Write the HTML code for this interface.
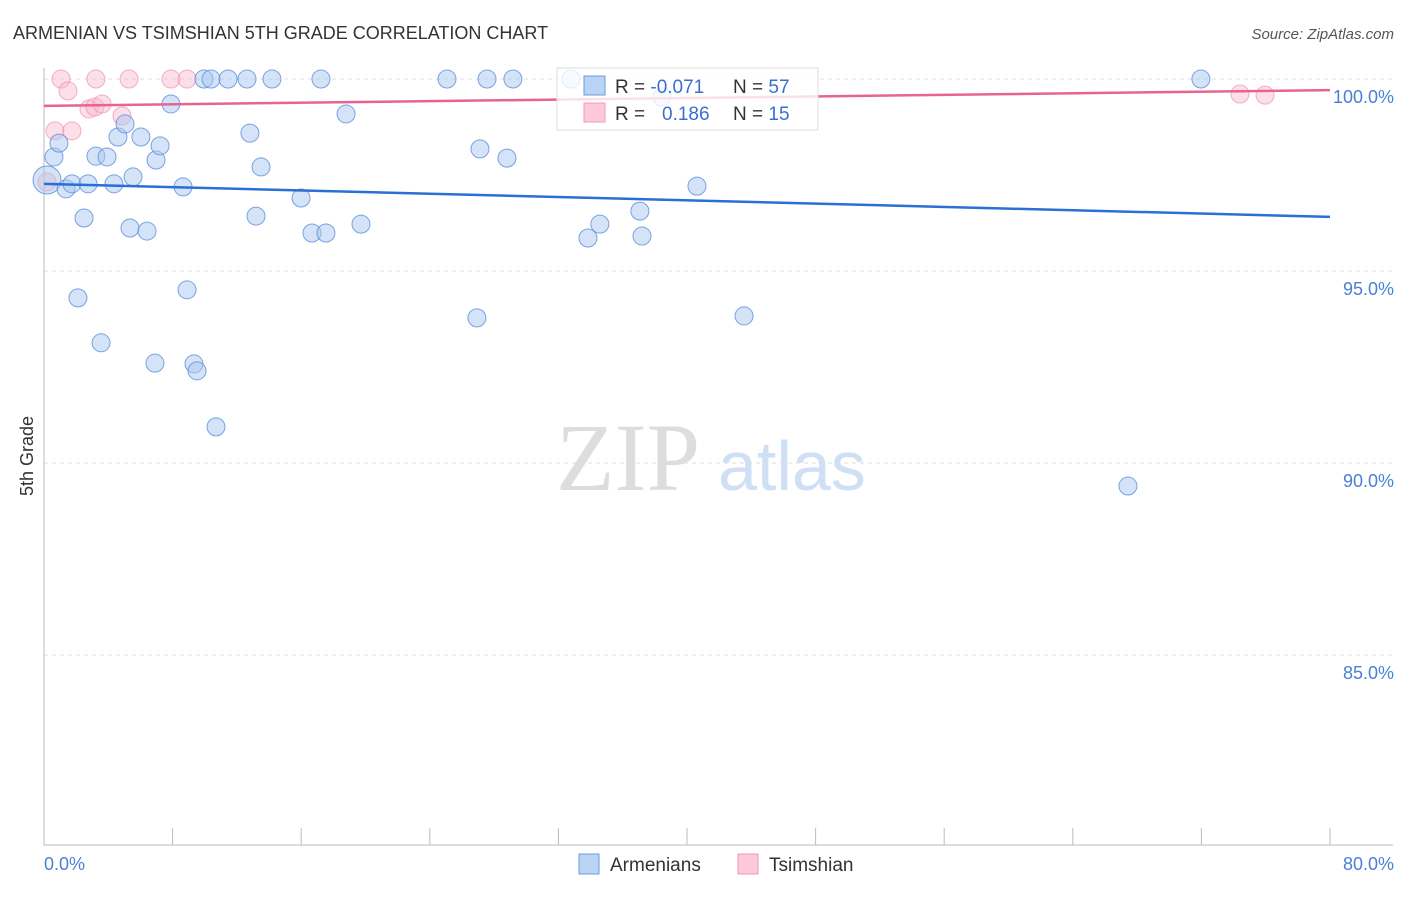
<!DOCTYPE html>
<html><head><meta charset="utf-8"><style>
body{margin:0;background:#fff;font-family:"Liberation Sans",sans-serif}
</style></head><body>
<svg id="c" width="1406" height="892" xmlns="http://www.w3.org/2000/svg">
<text x="13" y="39" font-size="18" fill="#333">ARMENIAN VS TSIMSHIAN 5TH GRADE CORRELATION CHART</text>
<text x="1394" y="39" font-size="15" fill="#555" font-style="italic" text-anchor="end">Source: ZipAtlas.com</text>
<text transform="translate(33,456) rotate(-90)" font-size="18" fill="#333" text-anchor="middle">5th Grade</text>
<text x="556" y="490" font-size="96" fill="#ddd" font-family="Liberation Serif,serif">ZIP</text>
<text x="718" y="490" font-size="70" fill="#cfe0f5">atlas</text>
<g id="grid"></g><g id="pts"></g><g id="lines"></g>
<g>
<rect x="557" y="68" width="261" height="62" fill="#fff" fill-opacity="0.8" stroke="#ddd"/>
<rect x="584" y="76" width="21" height="19" fill="#b9d3f5" stroke="#6a9ee0"/>
<rect x="584" y="103" width="21" height="19" fill="#fcc9d8" stroke="#f09ab5"/>
<text x="615" y="93" font-size="19" fill="#333">R = <tspan fill="#3a6fd0">-0.071</tspan></text>
<text x="733" y="93" font-size="19" fill="#333">N = <tspan fill="#3a6fd0">57</tspan></text>
<text x="615" y="120" font-size="19" fill="#333">R = <tspan fill="#3a6fd0" x="662">0.186</tspan></text>
<text x="733" y="120" font-size="19" fill="#333">N = <tspan fill="#3a6fd0">15</tspan></text>
</g>
<g>
<rect x="579" y="854" width="20" height="20" fill="#b9d3f5" stroke="#6a9ee0"/>
<text x="610" y="871" font-size="19" fill="#333">Armenians</text>
<rect x="738" y="854" width="20" height="20" fill="#fcc9d8" stroke="#f09ab5"/>
<text x="769" y="871" font-size="19" fill="#333">Tsimshian</text>
</g>
<text x="44" y="870" font-size="18" fill="#4a7fd6">0.0%</text>
<text x="1394" y="870" font-size="18" fill="#4a7fd6" text-anchor="end">80.0%</text>
</svg>
<script>
const yTicks=[100,95,90,85];
const yTickLabels=["100.0%","95.0%","90.0%","85.0%"];
const xTicks=[0,8,16,24,32,40,48,56,64,72,80];
const armX=[0.19,0.62,0.93,1.37,1.74,2.49,2.11,2.74,3.23,3.55,3.92,4.35,4.60,5.04,5.35,5.54,6.03,6.41,6.90,6.97,7.22,7.90,8.65,8.90,9.33,9.52,9.95,10.39,10.70,11.45,12.63,12.81,13.19,13.50,14.18,15.99,16.67,17.23,17.54,18.79,19.72,25.07,26.93,27.12,27.56,28.80,29.17,32.78,33.84,34.58,37.07,37.20,38.44,40.62,43.55,67.43,71.97];
const armY=[97.37,97.97,98.33,97.14,97.27,96.38,94.30,97.27,97.99,93.13,97.97,97.27,98.49,98.83,96.12,97.45,98.49,96.04,92.60,97.89,98.26,99.35,97.19,94.51,92.58,92.40,100,100,90.94,100,100,98.59,96.43,97.71,100,96.90,95.99,100,95.99,99.09,96.22,100,93.78,98.18,100,97.94,100,100,95.86,96.22,96.56,95.91,99.53,97.21,93.83,89.40,100];
const tsiX=[0.19,0.68,1.06,1.49,1.74,2.80,3.23,3.17,3.61,4.85,5.29,7.90,8.90,74.4,75.96];
const tsiY=[97.32,98.65,100,99.69,98.65,99.22,100,99.27,99.35,99.04,100,100,100,99.61,99.58];
const armTrend=[97.27,96.41];
const tsiTrend=[99.30,99.71];
const trendX=[0,80];
const X=v=>44+v/80*1286, Y=v=>79+(100-v)/5*192;
const NS="http://www.w3.org/2000/svg";
function mk(p,t,a){const e=document.createElementNS(NS,t);for(const k in a)e.setAttribute(k,a[k]);p.appendChild(e);return e;}
const grid=document.getElementById('grid');
yTicks.forEach((v,i)=>{
 const l=mk(grid,'line',{x1:44,x2:1393,y1:Y(v),y2:Y(v),stroke:'#ddd','stroke-dasharray':'4,4'});
 
 
 const t=mk(grid,'text',{x:1394,y:Y(v)+24,'font-size':18,fill:'#4a7fd6','text-anchor':'end'});
 t.textContent=yTickLabels[i];
 
 
});
const ax=mk(grid,'line',{x1:44,x2:44,y1:68,y2:845,stroke:'#bbb'});


const bx=mk(grid,'line',{x1:44,x2:1393,y1:845,y2:845,stroke:'#bbb'});


xTicks.forEach(v=>{
 const l=mk(grid,'line',{x1:X(v),x2:X(v),y1:828,y2:845,stroke:'#bbb'});
 
 
});
const pts=document.getElementById('pts');
tsiX.forEach((v,i)=>{
 const c=mk(pts,'circle',{cx:X(v),cy:Y(tsiY[i]),r:9,fill:'#f9b9cc','fill-opacity':0.45,stroke:'#f08fae','stroke-opacity':0.7});
 
 
});
armX.forEach((v,i)=>{
 const c=mk(pts,'circle',{cx:X(v),cy:Y(armY[i]),r:i==0?14:9,fill:'#a9c8f0','fill-opacity':0.5,stroke:'#5b8fd9','stroke-opacity':0.8});
 
 
});
const lines=document.getElementById('lines');
const la=mk(lines,'line',{x1:X(trendX[0]),x2:X(trendX[1]),y1:Y(armTrend[0]),y2:Y(armTrend[1]),stroke:'#2a6fd4','stroke-width':2.5});


const lt=mk(lines,'line',{x1:X(trendX[0]),x2:X(trendX[1]),y1:Y(tsiTrend[0]),y2:Y(tsiTrend[1]),stroke:'#e8648e','stroke-width':2.5});


</script>
</body></html>
